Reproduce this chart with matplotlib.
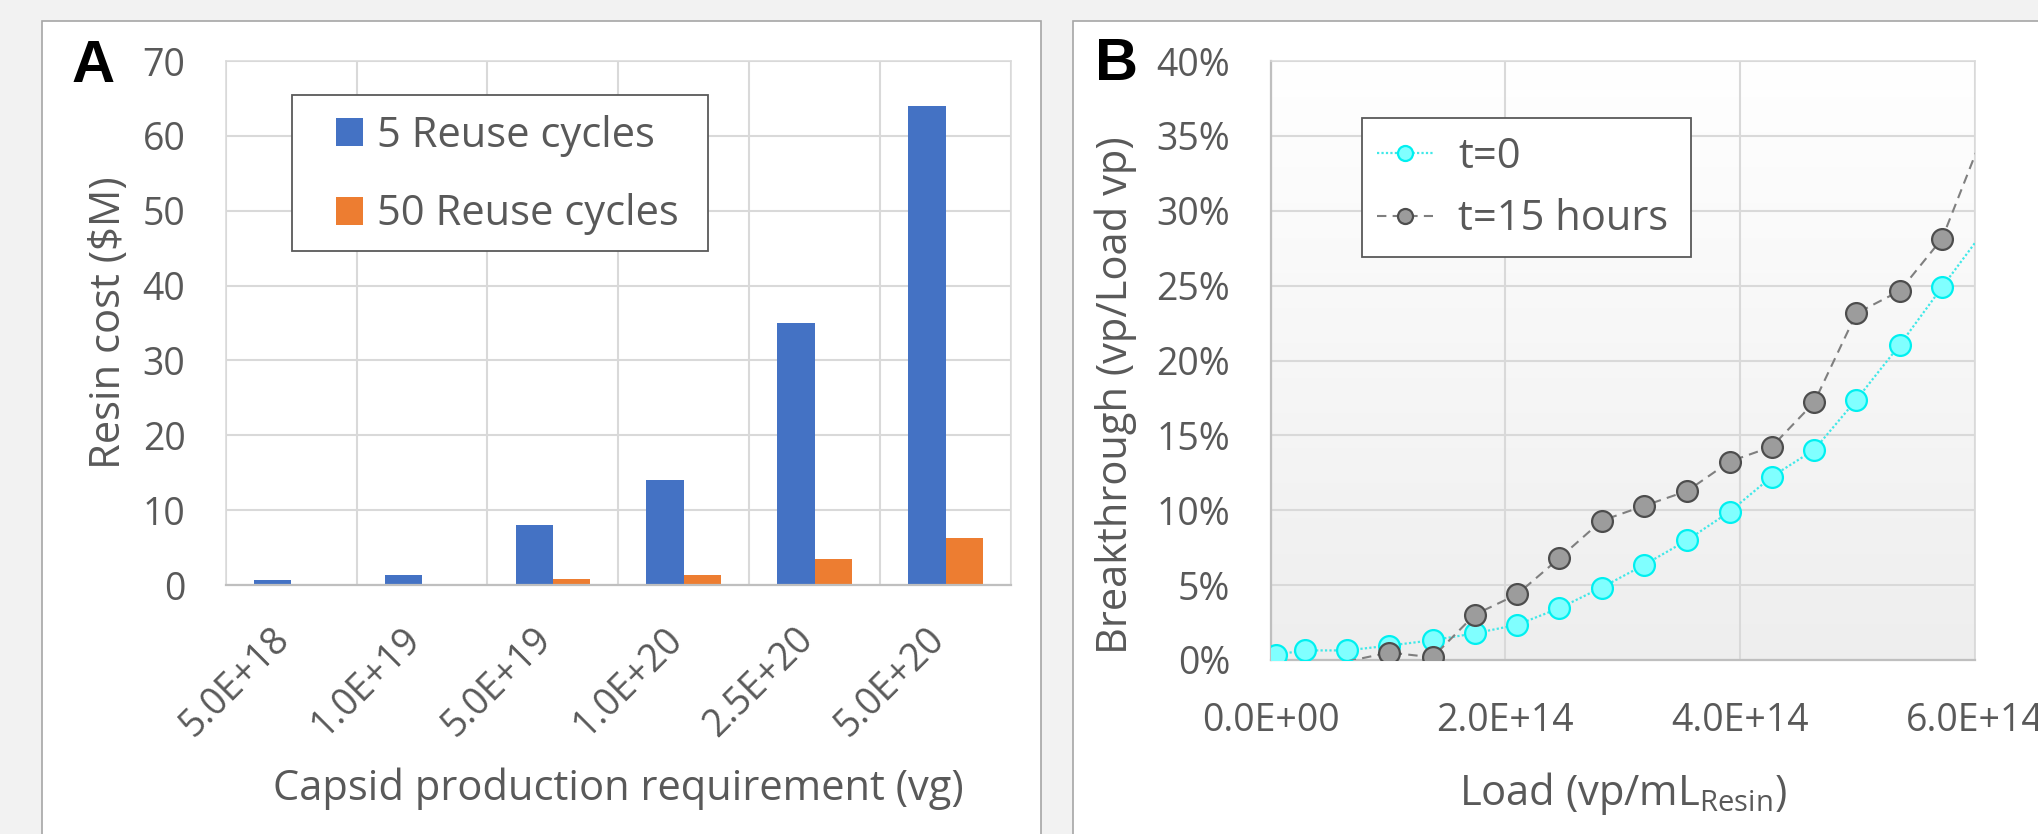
import numpy as np
import matplotlib
matplotlib.use("Agg")
import matplotlib.pyplot as plt
import matplotlib.transforms as mtransforms
from matplotlib.patches import Rectangle, Patch
from matplotlib.ticker import PercentFormatter, FuncFormatter, MultipleLocator, FixedLocator
from matplotlib.colors import LinearSegmentedColormap

# ---------------- data ----------------
# Panel A
categories = ["5.0E+18", "1.0E+19", "5.0E+19", "1.0E+20", "2.5E+20", "5.0E+20"]
cost_5_cycles = [0.64, 1.35, 8.0, 14.0, 35.0, 64.0]
cost_50_cycles = [0.06, 0.13, 0.8, 1.4, 3.5, 6.3]
series_a_names = ["5 Reuse cycles", "50 Reuse cycles"]

# Panel B (load in vp/mL resin, breakthrough in %)
load_t0 = [0.05e14, 0.29e14, 0.65e14, 1.01e14, 1.38e14, 1.74e14, 2.10e14, 2.46e14, 2.82e14,
           3.18e14, 3.55e14, 3.91e14, 4.27e14, 4.63e14, 4.99e14, 5.36e14, 5.72e14, 6.08e14]
bt_t0 = [0.36, 0.64, 0.64, 0.96, 1.32, 1.78, 2.35, 3.46, 4.84,
         6.34, 8.01, 9.90, 12.25, 14.03, 17.38, 21.05, 24.90, 28.7]
load_t15 = [0.65e14, 1.01e14, 1.38e14, 1.74e14, 2.10e14, 2.46e14, 2.82e14, 3.18e14,
            3.55e14, 3.91e14, 4.27e14, 4.63e14, 4.99e14, 5.36e14, 5.72e14, 6.08e14]
bt_t15 = [-0.1, 0.50, 0.18, 3.03, 4.38, 6.80, 9.30, 10.29,
          11.29, 13.25, 14.25, 17.20, 23.15, 24.65, 28.14, 35.3]
series_b_names = ["t=0", "t=15 hours"]

# ---------------- style ----------------
W, H = 2038, 834
plt.rcParams['font.family'] = ['Open Sans', 'DejaVu Sans']
plt.rcParams['mathtext.default'] = 'regular'
TXT = '#595959'
GRID = '#d9d9d9'
AXL = '#bfbfbf'
BLUE = '#4472C4'
ORANGE = '#ED7D31'
TICK_FS = 27
LAB_FS = 30
LEG_FS = 30

fig = plt.figure(figsize=(W / 100, H / 100), dpi=100, facecolor='#f2f2f2')

def fx(px):
    return px / W

def fy(py):
    return 1 - py / H

# panel frames (behind axes)
for (x0, x1) in [(42, 1041), (1073, 2100)]:
    fig.patches.append(Rectangle((fx(x0), fy(900)), fx(x1) - fx(x0), fy(21) - fy(900),
                                 transform=fig.transFigure, facecolor='white',
                                 edgecolor='#a6a6a6', linewidth=1.2, zorder=-5))

# ---------------- Panel A ----------------
axA = fig.add_axes([fx(225.7), fy(585), fx(1011) - fx(225.7), fy(61) - fy(585)])
axA.set_facecolor('white')
x = np.arange(len(categories))
bw = 0.285
axA.bar(x - bw / 2, cost_5_cycles, bw, color=BLUE, zorder=3)
axA.bar(x + bw / 2, cost_50_cycles, bw, color=ORANGE, zorder=3)
axA.set_xlim(-0.5, len(categories) - 0.5)
axA.set_ylim(0, 70)
axA.yaxis.set_major_locator(MultipleLocator(10))
axA.set_xticks(x)
axA.set_xticklabels(categories, rotation=45, ha='right', va='baseline',
                    rotation_mode='anchor')
shift = mtransforms.ScaledTranslation(7 / 100, 0, fig.dpi_scale_trans)
for lbl in axA.get_xticklabels():
    lbl.set_transform(lbl.get_transform() + shift)
axA.xaxis.set_minor_locator(FixedLocator(np.arange(-0.5, len(categories), 1.0)))
axA.grid(True, which='minor', axis='x', color=GRID, lw=1.5, zorder=0)
axA.grid(True, which='major', axis='y', color=GRID, lw=1.5, zorder=0)
axA.set_axisbelow(True)
axA.tick_params(axis='both', which='both', length=0, labelsize=TICK_FS, labelcolor=TXT)
axA.tick_params(axis='y', pad=29)
axA.tick_params(axis='x', labelsize=27, pad=40)
for s in ['top', 'left', 'right']:
    axA.spines[s].set_color(GRID)
    axA.spines[s].set_linewidth(1.1)
axA.spines['bottom'].set_color(AXL)
axA.spines['bottom'].set_linewidth(1.6)
axA.spines['bottom'].set_zorder(4)
axA.set_ylabel(r'Resin cost (\$M)', fontsize=LAB_FS, color=TXT, va='center')
axA.yaxis.set_label_coords((109 - 225.7) / (1011 - 225.7), 0.5)
axA.set_xlabel('Capsid production requirement (vg)', fontsize=LAB_FS, color=TXT, va='baseline')
axA.xaxis.set_label_coords(0.5, (585 - 800) / 524)

# legend A
axA.add_patch(Rectangle((fx(292), fy(251)), fx(708) - fx(292), fy(95) - fy(251),
                        transform=fig.transFigure, facecolor='white', clip_on=False,
                        edgecolor='#595959', linewidth=1.3, zorder=8))
hA = [Patch(facecolor=BLUE), Patch(facecolor=ORANGE)]
legA = axA.legend(hA, series_a_names, loc='upper left', frameon=False,
                  bbox_to_anchor=(fx(336), fy(115)), bbox_transform=fig.transFigure,
                  fontsize=LEG_FS, handlelength=0.65, handleheight=0.65, handletextpad=0.33,
                  labelspacing=0.87, borderpad=0, borderaxespad=0, labelcolor=TXT)
legA.set_zorder(9)

# ---------------- Panel B ----------------
axB = fig.add_axes([fx(1270.5), fy(660), fx(1975) - fx(1270.5), fy(61) - fy(660)])
cmap = LinearSegmentedColormap.from_list('bg', ['#eeeeee', '#ffffff'])
axB.imshow(np.linspace(0, 1, 256)[:, None], extent=[0, 1, 0, 1], transform=axB.transAxes,
           origin='lower', aspect='auto', cmap=cmap, zorder=0)
axB.plot(load_t0, bt_t0, linestyle=(0, (1, 1)), color='#40e8e8', lw=1.6,
         marker='o', markersize=15, markerfacecolor='#80ffff', markeredgecolor='#00f0f0',
         markeredgewidth=1.6, markevery=slice(0, -1), zorder=4, label=series_b_names[0])
axB.plot(load_t15, bt_t15, linestyle=(0, (4.5, 3)), color='#7f7f7f', lw=1.5,
         marker='o', markersize=15, markerfacecolor='#9c9c9c', markeredgecolor='#4d4d4d',
         markeredgewidth=1.6, markevery=slice(1, -1), zorder=5, label=series_b_names[1])
axB.set_xlim(0, 6e14)
axB.set_ylim(0, 40)
axB.xaxis.set_major_locator(MultipleLocator(2e14))
axB.yaxis.set_major_locator(MultipleLocator(5))
axB.yaxis.set_major_formatter(PercentFormatter(xmax=100, decimals=0))
axB.xaxis.set_major_formatter(FuncFormatter(lambda v, p: f"{v:.1E}"))
axB.grid(True, color=GRID, lw=1.5, zorder=1)
axB.set_axisbelow(True)
axB.tick_params(axis='both', length=0, labelsize=TICK_FS, labelcolor=TXT)
axB.tick_params(axis='y', pad=29)
axB.tick_params(axis='x', pad=30)
for s in ['top', 'right']:
    axB.spines[s].set_color(GRID)
    axB.spines[s].set_linewidth(1.1)
for s in ['left', 'bottom']:
    axB.spines[s].set_color(AXL)
    axB.spines[s].set_linewidth(1.6)
axB.set_ylabel('Breakthrough (vp/Load vp)', fontsize=LAB_FS, color=TXT, va='center')
axB.yaxis.set_label_coords((1116 - 1270.5) / 704.5, (660 - 395) / 599)
axB.set_xlabel(r'Load (vp/mL$_{Resin}$)', fontsize=LAB_FS, color=TXT, va='baseline')
axB.xaxis.set_label_coords(0.5, (660 - 805) / 599)

axB.add_patch(Rectangle((fx(1362), fy(257)), fx(1691) - fx(1362), fy(118) - fy(257),
                        transform=fig.transFigure, facecolor='white', clip_on=False,
                        edgecolor='#595959', linewidth=1.3, zorder=8))
legB = axB.legend(loc='upper left', frameon=False,
                  bbox_to_anchor=(fx(1377), fy(136)), bbox_transform=fig.transFigure,
                  fontsize=LEG_FS, handlelength=1.35, handletextpad=0.6, markerscale=0.72,
                  labelspacing=0.49, borderpad=0, borderaxespad=0, labelcolor=TXT)
legB.set_zorder(9)

# panel letters
fig.text(fx(72), fy(82), 'A', fontsize=43, fontweight='bold', family='Liberation Sans',
         color='black', va='baseline', ha='left')
fig.text(fx(1095), fy(80), 'B', fontsize=43, fontweight='bold', family='Liberation Sans',
         color='black', va='baseline', ha='left')

fig.savefig('out.png', dpi=100, facecolor=fig.get_facecolor())
